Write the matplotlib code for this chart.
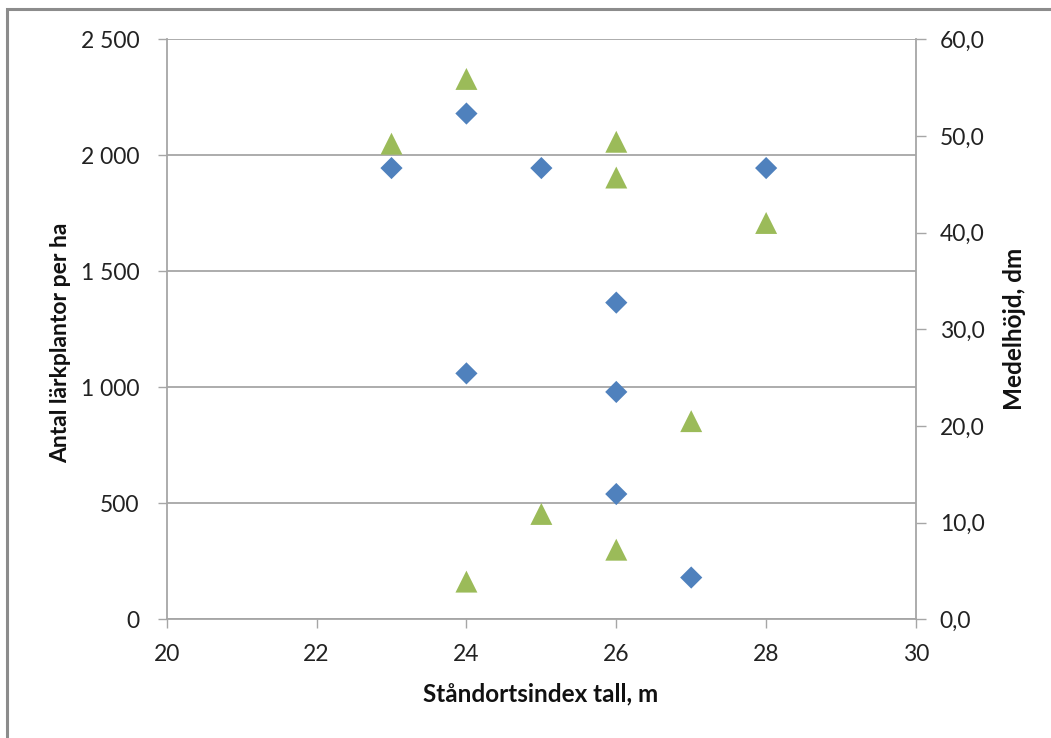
import matplotlib
matplotlib.use("Agg")
import matplotlib.pyplot as plt
from matplotlib.patches import Rectangle
from matplotlib.ticker import FuncFormatter, MultipleLocator

# Site index (x) for each stand
site_index_plants = [23, 24, 25, 28, 26, 24, 26, 26, 27]
# Number of larch plants per hectare (left axis)
plants_per_ha = [1945, 2180, 1945, 1945, 1365, 1060, 980, 540, 180]

site_index_height = [24, 23, 26, 26, 28, 27, 25, 26, 24]
# Mean height in dm (right axis)
mean_height_dm = [55.9, 49.2, 49.4, 45.7, 41.0, 20.5, 10.9, 7.2, 3.9]

x_label = "Ståndortsindex tall, m"
y_left_label = "Antal lärkplantor per ha"
y_right_label = "Medelhöjd, dm"

BLUE = "#4F81BD"
GREEN = "#9BBB59"
GRID = "#A6A6A6"
FONT = ["Lato", "DejaVu Sans"]

plt.rcParams["font.family"] = FONT

W, H = 1051, 738
fig = plt.figure(figsize=(W / 100, H / 100), dpi=100)

# chart frame (gray border)
fig.patches.append(Rectangle((7 / W, -0.1), 1.2, 1 - 9 / H + 0.1,
                             transform=fig.transFigure, fill=False,
                             edgecolor="#8C8C8C", linewidth=2.2))

left, right = 166.7 / W, 916 / W
bottom, top = 1 - 619.3 / H, 1 - 39.3 / H
ax = fig.add_axes([left, bottom, right - left, top - bottom])
ax2 = ax.twinx()

ax.set_xlim(20, 30)
ax.set_ylim(0, 2500)
ax2.set_ylim(0, 60)
ax.xaxis.set_major_locator(MultipleLocator(2))
ax.yaxis.set_major_locator(MultipleLocator(500))
ax2.yaxis.set_major_locator(MultipleLocator(10))

ax.yaxis.set_major_formatter(FuncFormatter(
    lambda v, p: f"{int(v):,}".replace(",", " ")))
ax2.yaxis.set_major_formatter(FuncFormatter(
    lambda v, p: f"{v:.1f}".replace(".", ",")))

ax.grid(axis="y", color=GRID, linewidth=1.3)
ax.set_axisbelow(True)

for sp in ("top", "right"):
    ax.spines[sp].set_visible(False)
for sp in ("left", "bottom"):
    ax.spines[sp].set_color(GRID)
    ax.spines[sp].set_linewidth(1.3)
for sp in ("top", "left", "bottom"):
    ax2.spines[sp].set_visible(False)
ax2.spines["right"].set_color(GRID)
ax2.spines["right"].set_linewidth(1.3)

ax.tick_params(axis="y", direction="out", length=6.5, width=1.0, color=GRID,
               pad=13, labelsize=16.5, labelcolor="#222222")
ax.tick_params(axis="x", direction="out", length=6.5, width=1.0, color=GRID,
               pad=11, labelsize=16.5, labelcolor="#222222")
ax2.tick_params(axis="y", direction="out", length=7, width=1.0, color=GRID,
                pad=10, labelsize=16.5, labelcolor="#222222")

ax.scatter(site_index_plants, plants_per_ha, marker="D", s=11.3 ** 2,
           color=BLUE, edgecolors="none", zorder=3, clip_on=False)
ax2.scatter(site_index_height, mean_height_dm, marker="^", s=15.8 ** 2,
            color=GREEN, edgecolors="none", zorder=3, clip_on=False)

fig.text(541 / W, 1 - 701 / H, x_label, ha="center", va="baseline",
         fontsize=17.5, fontweight="bold", color="#111111")
fig.text(61 / W, 1 - 343 / H, y_left_label, ha="center", va="center",
         rotation=90, fontsize=16.5, fontweight="bold", color="#111111")
fig.text(1014 / W, 1 - 329 / H, y_right_label, ha="center", va="center",
         rotation=90, fontsize=17.5, fontweight="bold", color="#111111")

fig.savefig("out.png", dpi=100)
